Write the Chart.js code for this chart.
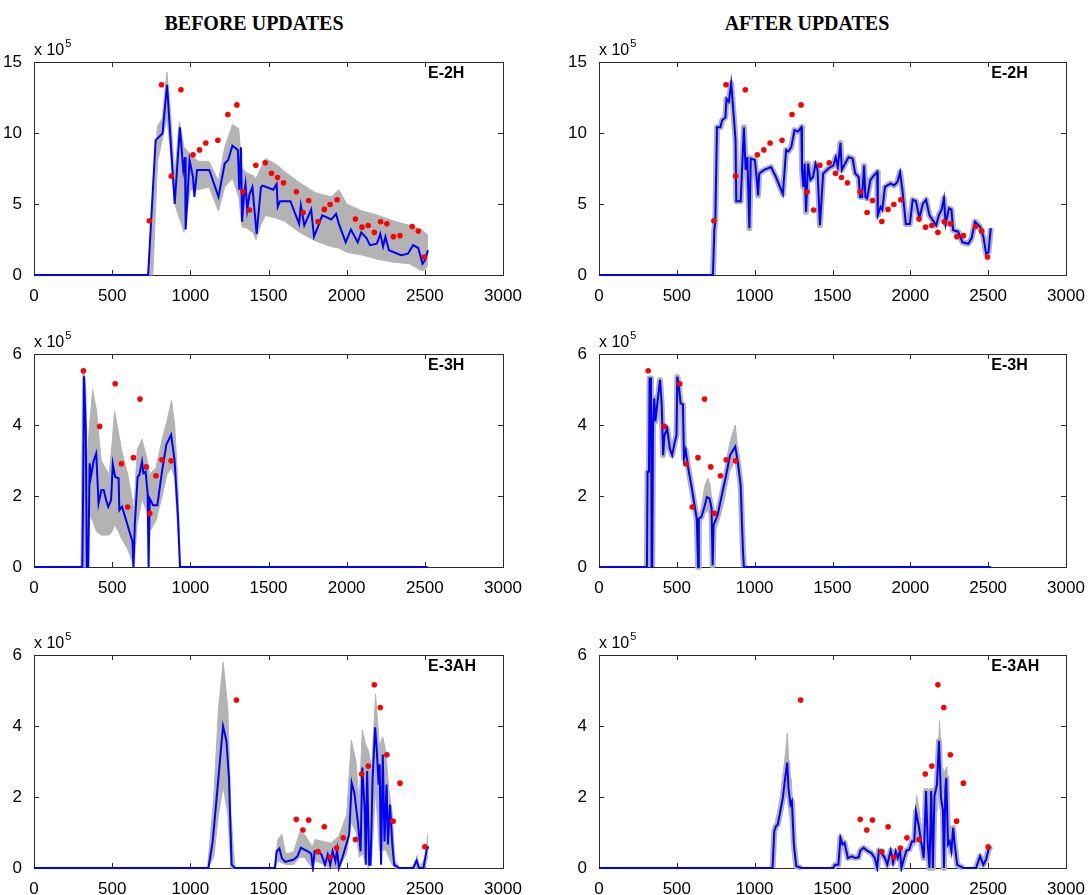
<!DOCTYPE html>
<html><head><meta charset="utf-8">
<script src="https://cdn.jsdelivr.net/npm/chart.js@4.4.1/dist/chart.umd.min.js"></script>
<style>
html,body{margin:0;padding:0;background:#fff;width:1090px;height:895px;overflow:hidden;position:relative}
.title{position:absolute;font-family:'Liberation Serif','Times New Roman',serif;font-weight:bold;font-size:20px;color:#000;white-space:nowrap;transform:translateX(-50%);top:11px;line-height:24px}
canvas{position:absolute}
</style></head><body>
<div class="title" style="left:254px">BEFORE UPDATES</div>
<div class="title" style="left:807px">AFTER UPDATES</div>
<script>
// ---------- data (x in days, y in units of 1e5) ----------
const X_TICKS = [0, 500, 1000, 1500, 2000, 2500, 3000];

// E-2H
const E2H_OBS_X = [738,816,878,940,1017,1059,1099,1176,1240,1298,1337,1379,1419,1479,1519,1558,1596,1678,1722,1757,1817,1857,1894,1939,2056,2098,2138,2177,2217,2257,2299,2341,2419,2458,2496];
const E2H_OBS_Y = [3.82,13.4,6.96,13.05,8.46,8.81,9.3,9.49,11.3,11.98,5.86,4.57,7.73,7.9,7.17,6.87,6.49,5.86,4.4,5.25,3.77,4.62,4.97,5.3,3.94,3.37,3.49,3.0,3.75,3.61,2.70,2.77,3.42,3.09,1.27];

const E2H_BEFORE_X = [0,730,778,822,851,862,900,933,955,966,970,995,1017,1026,1043,1065,1121,1180,1220,1242,1269,1304,1313,1324,1331,1344,1353,1364,1379,1397,1424,1452,1463,1530,1552,1559,1574,1640,1696,1707,1729,1773,1791,1813,1844,1883,1901,1932,1950,1994,2027,2071,2093,2127,2149,2193,2215,2233,2248,2270,2348,2392,2425,2458,2485,2502,2520];
const E2H_BEFORE_Y = [0,0,9.5,9.96,13.4,11.5,5.0,10.4,7.4,8.3,3.2,8.1,6.9,5.5,7.4,7.4,7.4,5.5,7.85,8.1,9.1,8.8,6.0,9.0,3.75,5.7,6.4,4.6,5.7,6.2,2.9,6.2,6.3,6.0,6.4,4.8,5.2,5.2,3.6,4.9,3.5,4.6,2.7,3.3,4.2,4.0,3.9,4.3,3.6,2.3,3.2,2.3,3.0,2.6,2.1,2.2,2.9,2.0,2.7,1.75,1.4,1.5,2.1,1.9,0.8,1.05,1.75];
const E2H_BEFORE_ENV_X  = [735,760,790,820,850,870,900,930,960,1000,1050,1120,1180,1220,1270,1310,1330,1360,1400,1420,1450,1480,1550,1600,1700,1800,1900,1950,2000,2100,2200,2300,2400,2480,2500,2520];
const E2H_BEFORE_ENV_HI = [0,6,10.5,11,14.3,12,7,10.8,9,8.5,8,8,6.6,9,10.6,10.3,7.5,7.2,7,6.8,7.5,8.2,7.8,7.3,6.5,5.8,5.5,6,5,4.5,4.2,3.8,3.5,3.2,3,2.8];
const E2H_BEFORE_ENV_LO = [0,0,8,9.5,11,9,5,4,3,6,6,6.2,4.5,6.2,6.8,5.5,3.4,3.3,3,2.5,3.5,4.2,4,3.8,3,2.4,2,1.9,1.6,1.4,1.1,0.9,0.8,0.3,0.4,0.7];

const E2H_AFTER_X = [0,732,741,747,758,780,791,812,819,834,849,860,877,882,910,931,942,953,966,975,1001,1014,1022,1029,1061,1105,1137,1181,1202,1217,1235,1256,1278,1300,1304,1313,1321,1330,1343,1358,1375,1391,1404,1419,1440,1473,1505,1521,1534,1551,1560,1581,1603,1629,1646,1668,1677,1690,1703,1711,1722,1744,1765,1787,1791,1809,1820,1837,1874,1895,1917,1934,1949,1971,1997,2015,2036,2058,2080,2101,2123,2145,2166,2183,2201,2216,2227,2248,2264,2275,2307,2335,2372,2394,2415,2448,2469,2487,2502,2517];
const E2H_AFTER_Y = [0,0,3.2,3.75,10.4,10.4,10.9,11.1,12.4,12.2,13.5,12.0,9.5,5.2,5.2,10.4,7.4,8.3,3.3,8.2,8.1,6.7,5.6,7.15,7.4,7.6,6.9,5.7,8.8,8.7,9.0,10.2,10.1,10.4,7.4,6.2,7.85,4.45,7.85,6.7,6.9,7.85,7.4,3.5,7.15,7.5,7.7,8.3,7.6,9.3,7.4,7.85,8.3,8.2,7.15,6.9,5.5,5.5,7.7,5.5,5.4,6.7,7.0,7.25,4.2,4.8,4.6,6.2,6.45,6.3,6.55,7.25,6.0,3.6,3.6,5.3,5.2,4.0,5.0,5.3,4.2,3.85,3.5,4.2,4.6,5.4,3.6,4.7,4.6,3.15,3.05,2.3,2.2,2.6,3.75,3.4,2.7,1.5,1.6,3.3];

// E-3H
const E3H_OBS_X = [316,420,519,559,599,636,678,718,740,780,817,877];
const E3H_OBS_Y = [5.53,3.96,5.16,2.91,1.69,3.08,4.73,2.82,1.51,2.57,3.02,2.99];

const E3H_BEFORE_X = [0,309,314,320,331,338,347,356,364,382,398,413,431,446,464,475,493,504,519,541,546,563,596,630,636,645,663,674,691,700,714,727,733,740,762,789,817,846,877,899,921,934,2518];
const E3H_BEFORE_Y = [0,0,1.98,5.37,3.86,0,0,2.92,2.54,3.0,3.2,1.79,2.17,2.17,1.84,1.7,1.88,2.9,2.54,2.5,1.6,1.7,1.22,0.71,0,1.22,2.54,2.59,2.97,2.64,2.68,2.07,0,1.93,1.74,1.74,2.64,3.44,3.72,3.01,1.41,0,0];
const E3H_BEFORE_ENV_X  = [300,312,320,332,340,352,375,400,430,480,500,515,540,560,600,640,660,690,720,740,780,820,850,880,900,920,935];
const E3H_BEFORE_ENV_HI = [0,5.6,5.6,5.0,3,3.8,5.0,4.4,3.0,2.6,3.5,4.4,3.8,3.3,2.6,1.6,3.3,3.6,3.1,2.6,2.8,3.6,4.1,4.7,4.0,2.4,0];
const E3H_BEFORE_ENV_LO = [0,0,0,0,0,1.5,1.3,1.0,0.9,0.9,1.0,1.2,1.0,0.8,0.5,0,1.2,1.9,1.6,1.0,1.3,2.0,2.6,2.8,2.5,1.0,0];

const E3H_AFTER_X = [0,308,312,321,325,334,338,342,347,355,362,383,392,403,412,420,438,455,470,487,498,503,513,524,539,546,557,572,600,628,637,641,658,680,693,710,723,730,736,762,789,817,842,875,892,910,925,931,2517];
const E3H_AFTER_Y = [0,0,2.68,2.68,5.31,5.31,0,0,4.0,4.75,4.1,4.94,5.27,4.56,3.15,3.71,3.9,3.34,3.15,3.53,3.71,5.36,5.08,4.61,4.58,3.06,3.29,2.82,2.12,1.36,0,1.36,1.41,1.74,1.97,1.93,1.65,0.05,1.18,1.46,2.02,2.59,3.15,3.39,2.96,2.30,0.42,0,0];
const E3H_AFTER_ENV_X  = [650,680,700,715,730,745,770,800,840,875,895,915,928];
const E3H_AFTER_ENV_HI = [1.45,2.3,2.5,2.3,1.6,1.5,1.9,2.5,3.5,4.0,3.2,2.0,0.3];
const E3H_AFTER_ENV_LO = [1.2,1.5,1.6,1.4,0.6,1.0,1.3,1.8,2.7,3.0,2.4,1.4,0];

// E-3AH
const E3AH_OBS_X = [1295,1678,1720,1757,1817,1857,1894,1936,1978,2056,2096,2138,2177,2215,2257,2297,2341,2500];
const E3AH_OBS_Y = [4.73,1.37,1.07,1.35,0.46,1.16,0.30,0.56,0.85,0.80,2.65,2.87,5.16,4.52,3.19,1.32,2.39,0.6];

const E3AH_BEFORE_X = [0,1116,1143,1176,1209,1231,1247,1264,1287,1541,1552,1570,1585,1607,1662,1685,1707,1751,1773,1784,1795,1817,1839,1861,1879,1895,1910,1928,1939,1950,1972,1994,2016,2032,2049,2071,2089,2100,2116,2122,2131,2144,2153,2166,2182,2193,2204,2211,2220,2231,2242,2255,2264,2277,2292,2304,2337,2425,2447,2463,2491,2514,2520];
const E3AH_BEFORE_Y = [0,0,0.75,2.35,4.0,3.58,2.54,0.09,0,0,0.47,0.55,0.28,0.17,0.24,0.33,0.57,0.47,0.4,0,0.47,0.47,0.38,0.09,0.38,0.09,0.47,0.19,0.52,0,0.28,0.61,0.94,2.4,2.12,1.32,0.47,2.83,1.6,0.09,2.73,0.09,0.09,2.54,3.96,3.3,2.35,2.92,0.09,3.2,0.75,2.35,0.66,1.79,0.66,0.09,0,0,0.21,0,0,0.57,0.61];
const E3AH_BEFORE_ENV_X  = [1110,1150,1180,1210,1240,1260,1285,1540,1560,1585,1610,1660,1700,1730,1780,1800,1850,1900,1950,2000,2030,2060,2080,2100,2120,2140,2160,2185,2210,2230,2250,2270,2290,2310,2340,2430,2450,2470,2500,2520];
const E3AH_BEFORE_ENV_HI = [0,2,4.5,5.8,4.5,1.5,0,0,0.8,0.95,0.4,0.45,1.0,0.95,0.6,0.8,0.75,0.7,0.9,1.5,3.6,3.0,1.8,3.9,3.5,3.3,2.8,4.9,3.4,3.7,3.3,2.2,1.6,0.2,0,0,0.35,0,0.3,0.95];
const E3AH_BEFORE_ENV_LO = [0,0.3,1.5,2.3,1.5,0,0,0,0.2,0.15,0.1,0.1,0.3,0.3,0,0.2,0.1,0,0,0.4,1.3,1.0,0.3,0.4,0.2,0,0.3,2.2,0.5,0.5,0.5,0.3,0.1,0,0,0,0,0,0,0.3];

const E3AH_AFTER_X = [0,1115,1126,1137,1148,1165,1181,1196,1209,1217,1230,1239,1252,1267,1300,1505,1516,1538,1551,1564,1577,1599,1625,1646,1668,1679,1700,1722,1750,1772,1787,1798,1815,1837,1852,1874,1889,1906,1919,1934,1943,1960,1975,1993,2010,2025,2036,2053,2069,2086,2101,2112,2123,2134,2145,2155,2171,2184,2197,2210,2216,2225,2231,2242,2253,2264,2275,2285,2301,2340,2422,2448,2469,2487,2502,2517];
const E3AH_AFTER_Y = [0,0,1.04,1.18,1.22,1.6,1.98,2.54,2.97,2.26,1.79,1.88,0.66,0.05,0,0,0.09,0.09,0.85,0.66,0.71,0.28,0.33,0.28,0.3,0.49,0.57,0.49,0.42,0.28,0,0.49,0.42,0.28,0.09,0.49,0.14,0.47,0.28,0.49,0,0.28,0.49,0.52,0.75,0.75,1.6,1.22,0.75,0.28,2.17,0.66,0,2.17,0,2.03,2.35,3.58,1.98,1.6,0,2.26,2.54,0.66,0.75,0.47,1.13,0.66,0.09,0,0,0.33,0.09,0.24,0.52,0.61];
const E3AH_AFTER_ENV1_X  = [1120,1135,1160,1190,1210,1222,1235,1250,1265];
const E3AH_AFTER_ENV1_HI = [0.9,1.35,1.8,2.9,3.8,2.7,2.5,1.2,0.05];
const E3AH_AFTER_ENV1_LO = [0.5,1.0,1.4,2.0,2.5,1.5,1.3,0.4,0];
const E3AH_AFTER_ENV2_X  = [2025,2040,2055,2075];
const E3AH_AFTER_ENV2_HI = [0.9,2.05,1.7,0.9];
const E3AH_AFTER_ENV2_LO = [0.6,1.3,1.0,0.4];
const E3AH_AFTER_ENV3_X  = [2175,2188,2200,2220,2235,2250];
const E3AH_AFTER_ENV3_HI = [2.6,4.15,2.9,2.7,2.85,1.0];
const E3AH_AFTER_ENV3_LO = [1.6,3.0,1.4,1.1,1.5,0.3];

// ---------- helpers ----------
const GRAY = '#b3b3b3', BLUE = '#0000ff', RED = '#ff0000';
const pts = (xs, ys) => xs.map((x, i) => ({x, y: ys[i]}));

function band(xs, hi, lo) {
  return [
    {data: pts(xs, hi), borderColor: GRAY, backgroundColor: GRAY, borderWidth: 1, pointRadius: 0, fill: '+1', order: 4, clip: 4},
    {data: pts(xs, lo), borderColor: GRAY, backgroundColor: GRAY, borderWidth: 1, pointRadius: 0, fill: false, order: 4, clip: 4}
  ];
}
function ensembleStroke(xs, ys) {
  return {data: pts(xs, ys), borderWidth: 6, pointRadius: 0, fill: false, order: 3, clip: 4,
    borderColor: GRAY, borderJoinStyle: 'round',
    segment: {borderColor: s => (s.p0.parsed.y === 0 && s.p1.parsed.y === 0) ? 'rgba(0,0,0,0)' : GRAY}};
}
function blue(xs, ys) {
  return {data: pts(xs, ys), borderColor: BLUE, borderWidth: 2, pointRadius: 0, fill: false, order: 1, clip: 4};
}
function obs(xs, ys) {
  return {data: pts(xs, ys), showLine: false, pointRadius: 2.8, pointBackgroundColor: RED, pointBorderWidth: 0, borderColor: RED, order: 0, clip: 6};
}

const matlabAxes = {
  id: 'matlabAxes',
  beforeDatasetsDraw(chart) {
    const {ctx, chartArea: a, scales: {x, y}} = chart;
    ctx.save();
    ctx.strokeStyle = '#2a2a2a'; ctx.lineWidth = 1;
    ctx.beginPath();
    x.ticks.forEach(t => {
      const px = Math.round(x.getPixelForValue(t.value)) + 0.5;
      ctx.moveTo(px, a.bottom); ctx.lineTo(px, a.bottom - 5);
      ctx.moveTo(px, a.top); ctx.lineTo(px, a.top + 5);
    });
    y.ticks.forEach(t => {
      const py = Math.round(y.getPixelForValue(t.value)) + 0.5;
      ctx.moveTo(a.left, py); ctx.lineTo(a.left + 5, py);
      ctx.moveTo(a.right, py); ctx.lineTo(a.right - 5, py);
    });
    ctx.stroke();
    ctx.strokeRect(Math.round(a.left) + 0.5, Math.round(a.top) + 0.5, Math.round(a.right - a.left), Math.round(a.bottom - a.top));
    ctx.restore();
  },
  afterDraw(chart, args, opts) {
    const {ctx, chartArea: a} = chart;
    ctx.save();
    ctx.fillStyle = '#000';
    ctx.textAlign = 'left';
    ctx.textBaseline = 'alphabetic';
    ctx.font = '16px "Liberation Sans", Arial, sans-serif';
    ctx.fillText('x 10', a.left, a.top - 7);
    const w = ctx.measureText('x 10').width;
    ctx.font = '11px "Liberation Sans", Arial, sans-serif';
    ctx.fillText('5', a.left + w + 1, a.top - 15);
    ctx.font = 'bold 16px "Liberation Sans", Arial, sans-serif';
    ctx.textBaseline = 'middle';
    ctx.fillText(opts.name, a.left + (a.right - a.left) * 0.84, a.top + 12);
    ctx.restore();
  }
};

Chart.defaults.font.family = '"Liberation Sans", Arial, sans-serif';
Chart.defaults.font.size = 17;
Chart.defaults.color = '#000';

function makeChart(left, top, width, height, yMax, yStep, name, datasets) {
  const c = document.createElement('canvas');
  c.width = width; c.height = height;
  c.style.left = left + 'px'; c.style.top = top + 'px';
  c.style.width = width + 'px'; c.style.height = height + 'px';
  document.body.appendChild(c);
  new Chart(c, {
    type: 'line',
    data: {datasets},
    plugins: [matlabAxes],
    options: {
      responsive: false, animation: false, devicePixelRatio: 1,
      layout: {padding: {top: 30, right: 24, left: 0, bottom: 0}},
      elements: {line: {tension: 0}},
      plugins: {legend: {display: false}, tooltip: {enabled: false}, matlabAxes: {name}},
      scales: {
        x: {type: 'linear', min: 0, max: 3000,
            grid: {display: false}, border: {display: false},
            afterBuildTicks: s => { s.ticks = X_TICKS.map(v => ({value: v})); },
            ticks: {padding: 3, maxRotation: 0, autoSkip: false, callback: v => String(v)},
            afterFit: s => { s.height = 30; }},
        y: {type: 'linear', min: 0, max: yMax,
            grid: {display: false}, border: {display: false},
            ticks: {stepSize: yStep, padding: 4, callback: v => String(v)},
            afterFit: s => { s.width = 34; }}
      }
    }
  });
}

const L = {left: 0, width: 527}, R = {left: 565, width: 525};
const ROWS = [32, 324, 625], H = 273;

makeChart(L.left, ROWS[0], L.width, H, 15, 5, 'E-2H', [
  obs(E2H_OBS_X, E2H_OBS_Y), blue(E2H_BEFORE_X, E2H_BEFORE_Y),
  ...band(E2H_BEFORE_ENV_X, E2H_BEFORE_ENV_HI, E2H_BEFORE_ENV_LO)]);
makeChart(R.left, ROWS[0], R.width, H, 15, 5, 'E-2H', [
  obs(E2H_OBS_X, E2H_OBS_Y), blue(E2H_AFTER_X, E2H_AFTER_Y), ensembleStroke(E2H_AFTER_X, E2H_AFTER_Y)]);

makeChart(L.left, ROWS[1], L.width, H, 6, 2, 'E-3H', [
  obs(E3H_OBS_X, E3H_OBS_Y), blue(E3H_BEFORE_X, E3H_BEFORE_Y),
  ...band(E3H_BEFORE_ENV_X, E3H_BEFORE_ENV_HI, E3H_BEFORE_ENV_LO)]);
makeChart(R.left, ROWS[1], R.width, H, 6, 2, 'E-3H', [
  obs(E3H_OBS_X, E3H_OBS_Y), blue(E3H_AFTER_X, E3H_AFTER_Y), ensembleStroke(E3H_AFTER_X, E3H_AFTER_Y),
  ...band(E3H_AFTER_ENV_X, E3H_AFTER_ENV_HI, E3H_AFTER_ENV_LO)]);

makeChart(L.left, ROWS[2], L.width, H, 6, 2, 'E-3AH', [
  obs(E3AH_OBS_X, E3AH_OBS_Y), blue(E3AH_BEFORE_X, E3AH_BEFORE_Y),
  ...band(E3AH_BEFORE_ENV_X, E3AH_BEFORE_ENV_HI, E3AH_BEFORE_ENV_LO)]);
makeChart(R.left, ROWS[2], R.width, H, 6, 2, 'E-3AH', [
  obs(E3AH_OBS_X, E3AH_OBS_Y), blue(E3AH_AFTER_X, E3AH_AFTER_Y), ensembleStroke(E3AH_AFTER_X, E3AH_AFTER_Y),
  ...band(E3AH_AFTER_ENV1_X, E3AH_AFTER_ENV1_HI, E3AH_AFTER_ENV1_LO),
  ...band(E3AH_AFTER_ENV2_X, E3AH_AFTER_ENV2_HI, E3AH_AFTER_ENV2_LO),
  ...band(E3AH_AFTER_ENV3_X, E3AH_AFTER_ENV3_HI, E3AH_AFTER_ENV3_LO)]);
</script>
</body></html>
